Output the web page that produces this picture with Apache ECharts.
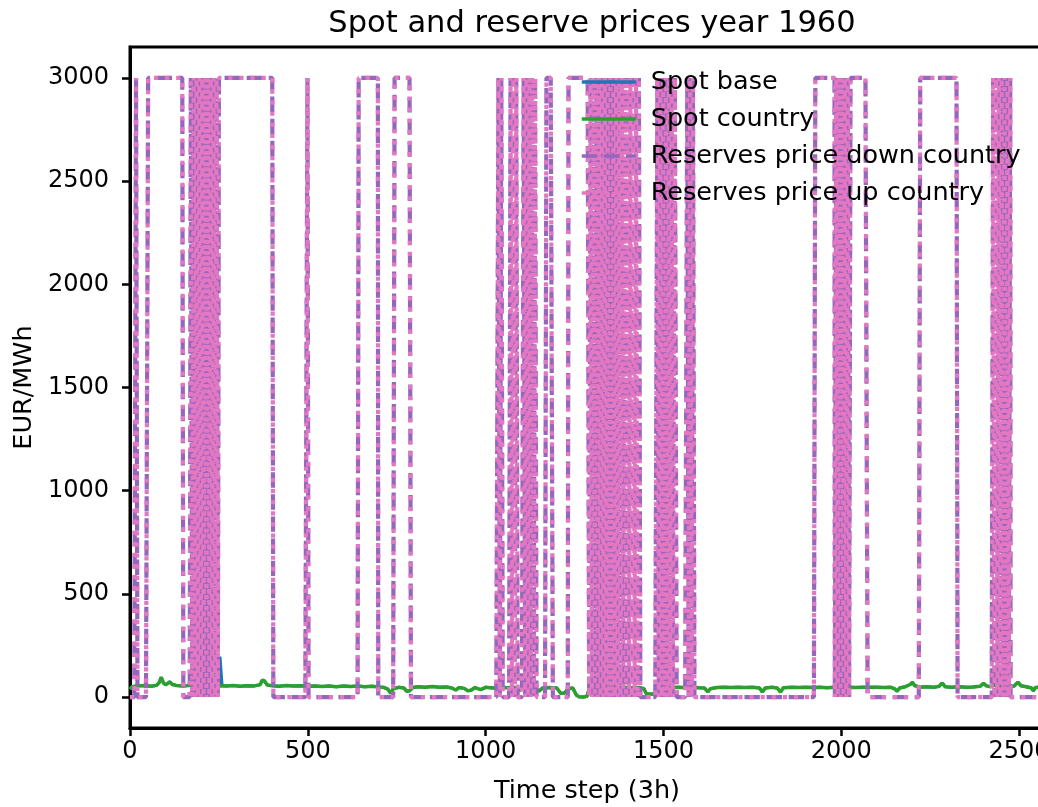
<!DOCTYPE html>
<html>
<head>
<meta charset="utf-8">
<script src="https://cdn.jsdelivr.net/npm/echarts@6/dist/echarts.min.js"></script>
<style>
  html, body { margin: 0; padding: 0; background: #ffffff; }
  #chart { width: 1038px; height: 807px; }
</style>
</head>
<body>
<div id="chart"></div>
<script>
// ---- data -------------------------------------------------------------
const lastStep = 2570;                       // time steps (3h) shown
const xTicks = [0, 500, 1000, 1500, 2000, 2500];
const yTicks = [0, 500, 1000, 1500, 2000, 2500, 3000];
const reserveCap = 3000;                     // EUR/MWh when reserves are scarce

// spot price in the country, [time step, EUR/MWh]
const spotCountry = [
  [0,38],[6,50],[20,54],[40,56],[60,52],[75,57],[82,70],[88,96],[94,68],[100,60],
  [106,66],[112,74],[118,62],[130,56],[150,54],[170,57],[190,53],[210,56],[230,52],[250,55],
  [270,53],[290,56],[310,52],[330,55],[350,54],[366,60],[372,82],[378,78],[386,58],[400,55],
  [420,52],[440,56],[460,53],[480,55],[500,52],[520,54],[540,51],[560,53],[580,50],[600,54],
  [620,51],[640,53],[660,50],[680,52],[700,49],[715,46],[725,38],[733,18],[740,40],[755,47],
  [770,44],[778,28],[786,30],[795,46],[810,50],[830,48],[850,51],[870,47],[890,49],[905,44],
  [916,34],[925,46],[940,42],[950,30],[960,34],[970,46],[986,36],[1000,47],[1020,44],[1040,48],
  [1060,45],[1080,47],[1095,32],[1105,44],[1120,47],[1140,45],[1150,28],[1160,44],[1180,46],[1200,44],
  [1211,18],[1222,20],[1232,40],[1245,44],[1255,10],[1262,2],[1275,0],[1285,4],[1292,44],[1310,46],
  [1330,43],[1350,46],[1370,44],[1390,47],[1410,44],[1430,46],[1445,40],[1452,16],[1465,14],[1478,18],
  [1486,44],[1500,47],[1520,45],[1540,48],[1560,46],[1580,47],[1600,45],[1615,44],[1625,26],[1632,40],
  [1650,46],[1670,48],[1690,46],[1710,48],[1730,46],[1750,47],[1770,44],[1778,24],[1786,44],[1805,47],
  [1820,44],[1829,24],[1837,45],[1860,47],[1880,46],[1900,48],[1920,46],[1940,47],[1960,45],[1980,47],
  [2000,46],[2020,48],[2040,46],[2060,48],[2080,47],[2100,48],[2120,46],[2140,47],[2150,40],[2157,28],
  [2164,44],[2180,50],[2195,62],[2200,72],[2206,56],[2220,48],[2240,50],[2260,47],[2275,52],[2284,68],
  [2292,50],[2310,48],[2330,50],[2350,47],[2370,49],[2390,52],[2400,66],[2408,54],[2420,50],[2434,60],
  [2438,145],[2442,60],[2455,50],[2470,48],[2485,52],[2497,72],[2505,55],[2520,50],[2535,44],[2540,30],
  [2546,46],[2560,48],[2570,47]
];

// base-area spot price follows the country price except for this short spike
const spotBaseSpike = [[251,58],[253,196],[256,192],[259,57]];

// reserve prices sit at the cap over these windows, [first step, last step]
const reserveDownHigh = [
  [17,20],[51,149],[250,402],[499,501],[643,697],[744,789],[1171,1188],[1233,1287],
  [1532,1536],[1927,1978],[2025,2073],[2222,2326]
];
// windows where the reserve price flips between 0 and the cap within each day
const reserveDownFlicker = [
  [171,247],[1036,1050],[1070,1090],[1107,1146],[1287,1435],[1483,1525],[1567,1590],
  [1978,2025],[2427,2475]
];
// the up-regulation price follows the same windows
const reserveUpHigh = reserveDownHigh;
const reserveUpFlicker = reserveDownFlicker;

// ---- series construction ---------------------------------------------
function reserveSeries(highWindows, flickerWindows) {
  const v = new Array(lastStep + 1).fill(0);
  highWindows.forEach(([a, b]) => { for (let t = a; t <= b; t++) v[t] = reserveCap; });
  flickerWindows.forEach(([a, b]) => {
    // half a day (4 steps of 3h) at the cap, half a day at zero
    for (let t = a; t <= b; t++) v[t] = (((t - a) >> 2) % 2 === 0) ? reserveCap : 0;
  });
  return v.map((y, t) => [t, y]);
}

function spotBaseSeries() {
  const s0 = spotBaseSpike[0][0], s1 = spotBaseSpike[spotBaseSpike.length - 1][0];
  const before = spotCountry.filter(p => p[0] < s0);
  const after = spotCountry.filter(p => p[0] > s1);
  return before.concat(spotBaseSpike, after);
}

const FONT = 'DejaVu Sans';
const plain = v => String(v);
const chart = echarts.init(document.getElementById('chart'), null, { renderer: 'canvas' });

chart.setOption({
  animation: false,
  backgroundColor: '#ffffff',
  title: {
    text: 'Spot and reserve prices year 1960',
    left: 587, top: 4, textAlign: 'center',
    textStyle: { fontFamily: FONT, fontSize: 30.5, fontWeight: 'normal', color: '#000' }
  },
  legend: {
    orient: 'vertical',
    left: 575, top: 64,
    itemWidth: 54, itemHeight: 14, itemGap: 11,
    itemStyle: { opacity: 0 },
    lineStyle: { width: 3.5 },
    textStyle: { fontFamily: FONT, fontSize: 25.5, color: '#000', lineHeight: 26, padding: [0, 0, 0, 10] },
    data: ['Spot base', 'Spot country', 'Reserves price down country', 'Reserves price up country']
  },
  grid: {
    left: 130, top: 47, width: 914, height: 681,
    outerBoundsMode: 'none',
    show: true, borderColor: '#000', borderWidth: 3, backgroundColor: 'transparent',
    containLabel: false
  },
  xAxis: {
    type: 'value', min: 0, max: lastStep,
    name: 'Time step (3h)', nameLocation: 'middle', nameGap: 50,
    nameTextStyle: { fontFamily: FONT, fontSize: 25.5, color: '#000' },
    axisLine: { show: true, onZero: false, lineStyle: { color: '#000', width: 3 } },
    axisTick: { show: true, inside: false, length: 8, lineStyle: { color: '#000', width: 2.5 }, customValues: xTicks },
    axisLabel: { fontFamily: FONT, fontSize: 24, color: '#000', margin: 12, customValues: xTicks, formatter: plain },
    splitLine: { show: false }
  },
  yAxis: {
    type: 'value', min: -150, max: 3150,
    name: 'EUR/MWh', nameLocation: 'middle', nameGap: 90, nameRotate: 90,
    nameTextStyle: { fontFamily: FONT, fontSize: 25.5, color: '#000' },
    axisLine: { show: true, onZero: false, lineStyle: { color: '#000', width: 3 } },
    axisTick: { show: true, inside: false, length: 8, lineStyle: { color: '#000', width: 2.5 }, customValues: yTicks },
    axisLabel: { fontFamily: FONT, fontSize: 24, color: '#000', margin: 21, customValues: yTicks, formatter: plain },
    splitLine: { show: false }
  },
  series: [
    {
      name: 'Spot base', type: 'line', data: spotBaseSeries(),
      symbol: 'none', color: '#1f77b4',
      lineStyle: { color: '#1f77b4', width: 3 }
    },
    {
      name: 'Spot country', type: 'line', data: spotCountry,
      symbol: 'none', color: '#2ca02c',
      lineStyle: { color: '#2ca02c', width: 3.5 }
    },
    {
      name: 'Reserves price down country', type: 'line',
      data: reserveSeries(reserveDownHigh, reserveDownFlicker),
      symbol: 'none', color: '#9467bd',
      lineStyle: { color: '#9467bd', width: 4.2, type: [15.4, 6.7] }
    },
    {
      name: 'Reserves price up country', type: 'line',
      data: reserveSeries(reserveUpHigh, reserveUpFlicker),
      symbol: 'none', color: '#e377c2',
      lineStyle: { color: '#e377c2', width: 4.2, type: [4.2, 6.9] }
    }
  ]
});
</script>
</body>
</html>
